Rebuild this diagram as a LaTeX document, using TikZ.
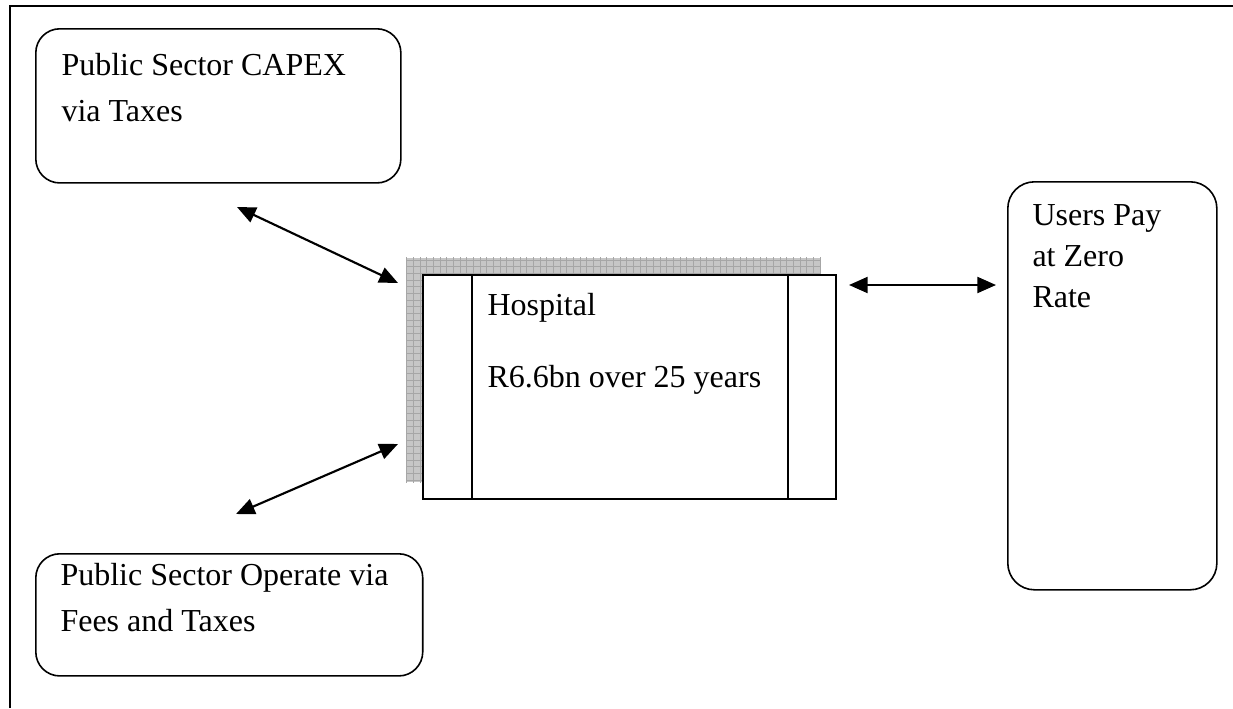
\documentclass[tikz,border=0pt]{standalone}
\usepackage{fontspec}
\setmainfont{Liberation Serif}
\usetikzlibrary{arrows.meta}

\tikzset{
  roundbox/.style={draw, rounded corners=9pt, line width=0.6pt, inner sep=0pt, anchor=north west},
  plainbox/.style={draw, line width=0.7pt, inner sep=0pt, anchor=north west,
                   minimum width=154.9pt, minimum height=84pt},
  boxtext/.style={anchor=north west, align=left, inner sep=0pt, font=\fontsize{12}{17}\selectfont},
  gridline/.style={gray!70, line width=0.35pt, step=2.5pt},
  flow/.style={arrows={Triangle[length=7pt,width=6pt]-Triangle[length=7pt,width=6pt]}, line width=0.8pt},
}

\begin{document}
\begin{tikzpicture}[x=0.375pt,y=-0.375pt]
  \useasboundingbox (0,0) rectangle (1233,708);

  % outer frame
  \draw[line width=0.8pt] (10,708) -- (10,6) -- (1233,6);

  % left and right boxes
  \node[roundbox, minimum width=136.9pt, minimum height=57.8pt] (capex) at (35,28) {};
  \node[roundbox, minimum width=145.1pt, minimum height=45.8pt] (operate) at (35,553) {};
  \node[roundbox, rounded corners=10pt, minimum width=78.4pt, minimum height=153pt] (users) at (1007,181) {};

  \node[boxtext] (capextext) at ([shift={(26,25)}]capex.north west)
    {Public Sector CAPEX\\via Taxes};
  \node[boxtext] (operatetext) at ([shift={(25,10)}]operate.north west)
    {Public Sector Operate via\\Fees and Taxes};
  \node[boxtext, font=\fontsize{12}{15.4}\selectfont] (userstext) at ([shift={(25,23)}]users.north west)
    {Users Pay\\at Zero\\Rate};

  % hospital with shadow
  \node[plainbox, draw=none, fill=gray!45] (shadow) at (406,257) {};
  \begin{scope}
    \clip (shadow.south west) rectangle (shadow.north east);
    \draw[gridline] (shadow.south west) grid (shadow.north east);
  \end{scope}
  \node[plainbox, fill=white] (hospital) at (422,274) {};
  \draw[line width=0.7pt]
    ([xshift=18.75pt]hospital.north west) -- ([xshift=18.75pt]hospital.south west);
  \draw[line width=0.7pt]
    ([xshift=-18.4pt]hospital.north east) -- ([xshift=-18.4pt]hospital.south east);
  \node[boxtext] (hospitaltext) at ([shift={(65,19)}]hospital.north west)
    {Hospital\\[10pt]R6.6bn over 25 years};

  % arrows
  \coordinate (capexend) at (237,207);
  \coordinate (hosptop) at (398,283);
  \coordinate (operateend) at (236,514);
  \coordinate (hospbottom) at (398,444);
  \coordinate (hospright) at (849,285);
  \coordinate (usersend) at (996,285);

  \draw[flow] (capexend) -- (hosptop);
  \draw[flow] (operateend) -- (hospbottom);
  \draw[flow] (hospright) -- (usersend);
\end{tikzpicture}
\end{document}
